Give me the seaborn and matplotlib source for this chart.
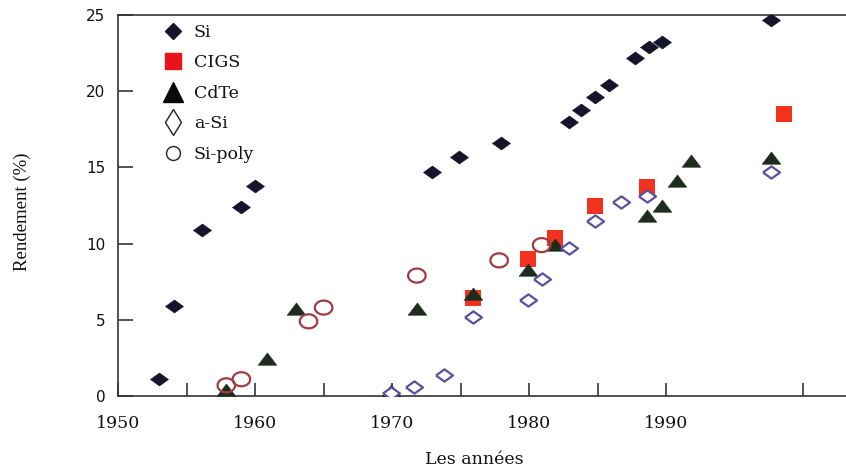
import numpy as np
import pandas as pd
import matplotlib
matplotlib.use("Agg")
import matplotlib.pyplot as plt
from matplotlib.lines import Line2D
import seaborn as sns

# ---- data ----
si_years = [1953, 1954.1, 1956.1, 1959, 1960, 1972.9, 1974.9, 1977.9, 1982.9,
            1983.8, 1984.8, 1985.8, 1987.7, 1988.7, 1989.7, 1997.6]
si_vals = [1.1, 5.9, 10.9, 12.4, 13.8, 14.7, 15.7, 16.6, 18.0,
           18.75, 19.6, 20.4, 22.2, 22.9, 23.2, 24.65]

cigs_years = [1975.9, 1979.9, 1981.9, 1984.8, 1988.6, 1998.6]
cigs_vals = [6.4, 9.0, 10.4, 12.5, 13.7, 18.5]

cdte_years = [1957.9, 1960.9, 1963.0, 1969.9, 1971.8, 1975.9, 1979.9, 1981.9,
              1988.6, 1989.7, 1990.8, 1991.8, 1997.6]
cdte_vals = [0.4, 2.4, 5.7, 0.3, 5.7, 6.7, 8.3, 9.9, 11.8, 12.5, 14.1, 15.4, 15.6]

asi_years = [1969.9, 1971.6, 1973.8, 1975.9, 1979.9, 1980.9, 1982.9, 1984.8,
             1986.7, 1988.6, 1997.6]
asi_vals = [0.2, 0.6, 1.4, 5.2, 6.3, 7.7, 9.7, 11.5, 12.7, 13.1, 14.7]

poly_years = [1957.9, 1959.0, 1963.9, 1965.0, 1971.8, 1977.8, 1980.9]
poly_vals = [0.7, 1.1, 4.9, 5.8, 7.9, 8.9, 9.9]

series_names = ["Si", "CIGS", "CdTe", "a-Si", "Si-poly"]
x_tick_pos = [1950, 1955, 1960, 1965, 1970, 1975, 1980, 1985, 1990, 2000]
x_tick_labels = ["1950", "", "1960", "", "1970", "", "1980", "", "1990", ""]
y_ticks = [0, 5, 10, 15, 20, 25]

# ---- styling ----
sns.set_style("ticks")
plt.rcParams["font.family"] = ["DejaVu Serif"]

diamond = [(-1, 0), (0, 0.72), (1, 0), (0, -0.72), (-1, 0)]
triangle = [(-1, -0.62), (1, -0.62), (0, 0.7), (-1, -0.62)]
t = np.linspace(0, 2 * np.pi, 40)
ellipse = list(zip(np.cos(t), 0.8 * np.sin(t)))

fig = plt.figure(figsize=(8.46, 4.70), dpi=100)
ax = fig.add_axes([118 / 846, 1 - 396 / 470, 1 - 118 / 846, (396 - 15) / 470])

sns.scatterplot(x=si_years, y=si_vals, ax=ax, marker=diamond, s=165,
                color="#14142a", edgecolor="#14142a", linewidth=0.5, legend=False, zorder=3)
sns.scatterplot(x=cigs_years, y=cigs_vals, ax=ax, marker="s", s=125,
                color="#f2321e", linewidth=0, legend=False, zorder=3)
sns.scatterplot(x=cdte_years, y=cdte_vals, ax=ax, marker=triangle, s=175,
                color="#1d2c1d", edgecolor="#1d2c1d", linewidth=0.5, legend=False, zorder=4)
sns.scatterplot(x=asi_years, y=asi_vals, ax=ax, marker=diamond, s=150,
                facecolor="white", edgecolor="#5c4f9c", linewidth=1.6, legend=False, zorder=5)
sns.scatterplot(x=poly_years, y=poly_vals, ax=ax, marker=ellipse, s=160,
                facecolor="none", edgecolor="#a03c42", linewidth=1.6, legend=False, zorder=6)

ax.set_xlim(1950, 2003.1)
ax.set_ylim(0, 25)
ax.set_xticks(x_tick_pos)
ax.set_xticklabels(x_tick_labels)
ax.set_yticks(y_ticks)
ax.set_yticklabels([str(v) for v in y_ticks], family="DejaVu Sans", fontsize=11)
for lab in ax.get_xticklabels():
    lab.set_fontsize(12.5)
ax.tick_params(axis="x", direction="in", length=9.5, width=1.1, pad=14, color="#222222",
               labelcolor="#111111")
ax.tick_params(axis="y", direction="in", length=11, width=1.1, pad=9, color="#222222",
               labelcolor="#111111")

for side in ["left", "bottom", "top"]:
    ax.spines[side].set_visible(True)
    ax.spines[side].set_linewidth(1.2)
    ax.spines[side].set_color("#333333")
ax.spines["right"].set_visible(False)

ax.set_xlabel("Les années", fontsize=12.5, color="#111111")
ax.xaxis.set_label_coords((474 - 118) / 728, (396 - 451) / 381)
ax.set_ylabel("Rendement (%)", fontsize=13.5, family="Liberation Serif", color="#111111")
ax.yaxis.set_label_coords((31 - 118) / 728, (396 - 212) / 381)

handles = [
    Line2D([], [], linestyle="none", marker="D", markersize=8, color="#14142a"),
    Line2D([], [], linestyle="none", marker="s", markersize=11, color="#e8141a"),
    Line2D([], [], linestyle="none", marker="^", markersize=14, color="#0a0a0a"),
    Line2D([], [], linestyle="none", marker="d", markersize=13, markerfacecolor="white",
           markeredgecolor="#222222", markeredgewidth=1.0),
    Line2D([], [], linestyle="none", marker="o", markersize=10, markerfacecolor="white",
           markeredgecolor="#222222", markeredgewidth=1.0),
]
leg = ax.legend(handles, series_names, loc="upper left", bbox_to_anchor=(0.042, 1.018),
                frameon=False, fontsize=12.5, handlelength=1.0, handletextpad=0.7,
                labelspacing=0.78, borderpad=0.4)
for txt in leg.get_texts():
    txt.set_color("#111111")

fig.savefig("out.png", dpi=100)
